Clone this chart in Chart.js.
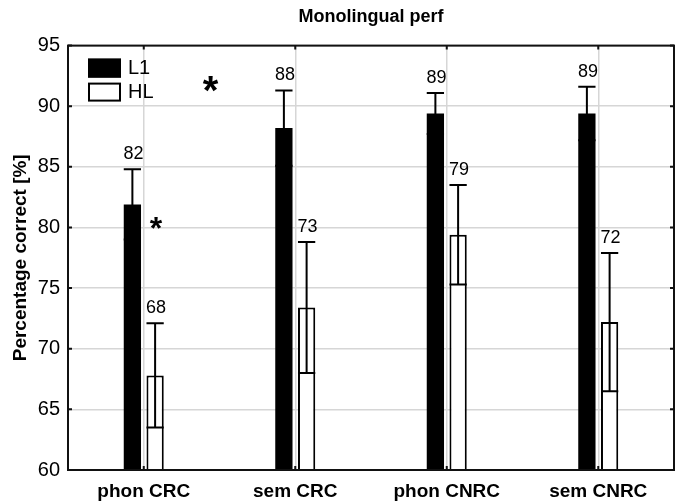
<!DOCTYPE html>
<html>
<head>
<meta charset="utf-8">
<script src="https://cdn.jsdelivr.net/npm/chart.js@4/dist/chart.umd.min.js"></script>
<style>
    html, body { margin: 0; padding: 0; background: #fff; }
    #wrap { width: 679px; height: 504px; }
</style>
</head>
<body>
<div id="wrap"><canvas id="chart" width="679" height="504"></canvas></div>
<script>
'use strict';

// данные графика
const categories = ['phon CRC', 'sem CRC', 'phon CNRC', 'sem CNRC'];
const seriesNames = ['L1', 'HL'];
const l1Values = [81.9, 88.2, 89.4, 89.4];
const l1Errors = [2.9, 3.1, 1.7, 2.2];
const hlValues = [67.8, 73.4, 79.4, 72.2];
const hlErrors = [4.3, 5.4, 4.1, 5.7];
const yMin = 60;
const yMax = 95;
const yStep = 5;
// звёздочки значимости: позиция категории и значение по оси Y
const starX = [0.44, 0.08];
const starY = [91.8, 80.4];

const fontFamily = '"Liberation Sans", Arial, sans-serif';

// планки погрешностей и подписи значений
const errorBarsPlugin = {
    id: 'errorBars',
    afterDatasetsDraw(chart) {
        const ctx = chart.ctx;
        const y = chart.scales.y;
        chart.data.datasets.forEach((ds, i) => {
            const meta = chart.getDatasetMeta(i);
            meta.data.forEach((bar, j) => {
                const v = ds.data[j];
                const e = ds.errors[j];
                const top = y.getPixelForValue(v + e);
                const bot = y.getPixelForValue(v - e);
                const half = bar.width / 2;
                ctx.save();
                ctx.strokeStyle = '#000';
                ctx.lineWidth = 2;
                ctx.beginPath();
                ctx.moveTo(bar.x, bot);
                ctx.lineTo(bar.x, top);
                ctx.moveTo(bar.x - half, top);
                ctx.lineTo(bar.x + half, top);
                ctx.moveTo(bar.x - half, bot);
                ctx.lineTo(bar.x + half, bot);
                ctx.stroke();

                ctx.fillStyle = '#000';
                ctx.font = '18px ' + fontFamily;
                ctx.textAlign = 'center';
                ctx.textBaseline = 'alphabetic';
                ctx.fillText(String(Math.round(v)), bar.x + 1, top - 10);
                ctx.restore();
            });
        });
    },
};

// рамка, внутренние засечки, легенда и звёздочки
const framePlugin = {
    id: 'frame',
    afterDraw(chart) {
        const ctx = chart.ctx;
        const a = chart.chartArea;
        const xs = chart.scales.x;
        const ys = chart.scales.y;
        ctx.save();
        ctx.strokeStyle = '#111';
        ctx.lineWidth = 2;
        ctx.strokeRect(a.left, a.top, a.right - a.left, a.bottom - a.top);

        ctx.beginPath();
        ys.ticks.forEach((t) => {
            const py = ys.getPixelForValue(t.value);
            ctx.moveTo(a.left, py);
            ctx.lineTo(a.left + 4, py);
            ctx.moveTo(a.right, py);
            ctx.lineTo(a.right - 4, py);
        });
        categories.forEach((c, i) => {
            const px = xs.getPixelForValue(i);
            ctx.moveTo(px, a.top);
            ctx.lineTo(px, a.top + 4);
            ctx.moveTo(px, a.bottom);
            ctx.lineTo(px, a.bottom - 4);
        });
        ctx.stroke();

        // легенда в левом верхнем углу области графика
        const lx = a.left + 20;
        const ly = a.top + 13;
        chart.data.datasets.forEach((ds, i) => {
            const by = ly + i * 24;
            ctx.fillStyle = ds.backgroundColor;
            ctx.fillRect(lx, by, 33, 19);
            ctx.lineWidth = 2;
            ctx.strokeStyle = '#000';
            ctx.strokeRect(lx + 1, by + 1, 31, 17);
            ctx.fillStyle = '#000';
            ctx.font = '20px ' + fontFamily;
            ctx.textAlign = 'left';
            ctx.textBaseline = 'middle';
            ctx.fillText(ds.label, lx + 40, by + 10);
        });

        // звёздочки
        const sizes = [40, 32];
        starX.forEach((sx, i) => {
            const px = xs.getPixelForValue(sx);
            const py = ys.getPixelForValue(starY[i]);
            ctx.font = 'bold ' + sizes[i] + 'px ' + fontFamily;
            ctx.textAlign = 'center';
            ctx.textBaseline = 'alphabetic';
            const m = ctx.measureText('*');
            const off = (m.actualBoundingBoxAscent - m.actualBoundingBoxDescent) / 2;
            ctx.fillStyle = '#000';
            ctx.fillText('*', px, py + off);
        });
        ctx.restore();
    },
};

const ctx = document.getElementById('chart').getContext('2d');
const cfg = {
    type: 'bar',
    data: {
        labels: categories,
        datasets: [
            {
                label: seriesNames[0],
                data: l1Values,
                errors: l1Errors,
                backgroundColor: '#000',
                borderWidth: 0,
            },
            {
                label: seriesNames[1],
                data: hlValues,
                errors: hlErrors,
                backgroundColor: '#fff',
                borderColor: '#000',
                borderWidth: 2,
                borderSkipped: false,
            },
        ],
    },
    options: {
        responsive: false,
        animation: false,
        categoryPercentage: 0.3,
        barPercentage: 0.76,
        layout: { padding: { left: 0, right: 5, top: 0, bottom: 0 } },
        plugins: {
            legend: { display: false },
            tooltip: { enabled: false },
            title: {
                display: true,
                text: 'Monolingual perf',
                fullSize: false,
                color: '#000',
                font: { family: fontFamily, size: 18, weight: 'bold' },
                padding: { top: 6, bottom: 18 },
            },
        },
        scales: {
            x: {
                grid: { offset: false, color: '#d6d6d6', lineWidth: 1.5, drawTicks: false },
                border: { display: false },
                ticks: {
                    color: '#000',
                    padding: 10,
                    font: { family: fontFamily, size: 19, weight: 'bold' },
                },
                afterFit(scale) { scale.height = 34; },
            },
            y: {
                min: yMin,
                max: yMax,
                grid: { color: '#d6d6d6', lineWidth: 1.5, drawTicks: false },
                border: { display: false },
                ticks: {
                    stepSize: yStep,
                    color: '#000',
                    padding: 8,
                    font: { family: fontFamily, size: 20 },
                },
                title: {
                    display: true,
                    text: 'Percentage correct [%]',
                    color: '#000',
                    font: { family: fontFamily, size: 19, weight: 'bold' },
                    padding: { top: 9, bottom: 0 },
                },
                afterFit(scale) { scale.width = 68; },
            },
        },
    },
    plugins: [errorBarsPlugin, framePlugin],
};
const chart = new Chart(ctx, cfg);
</script>
</body>
</html>
